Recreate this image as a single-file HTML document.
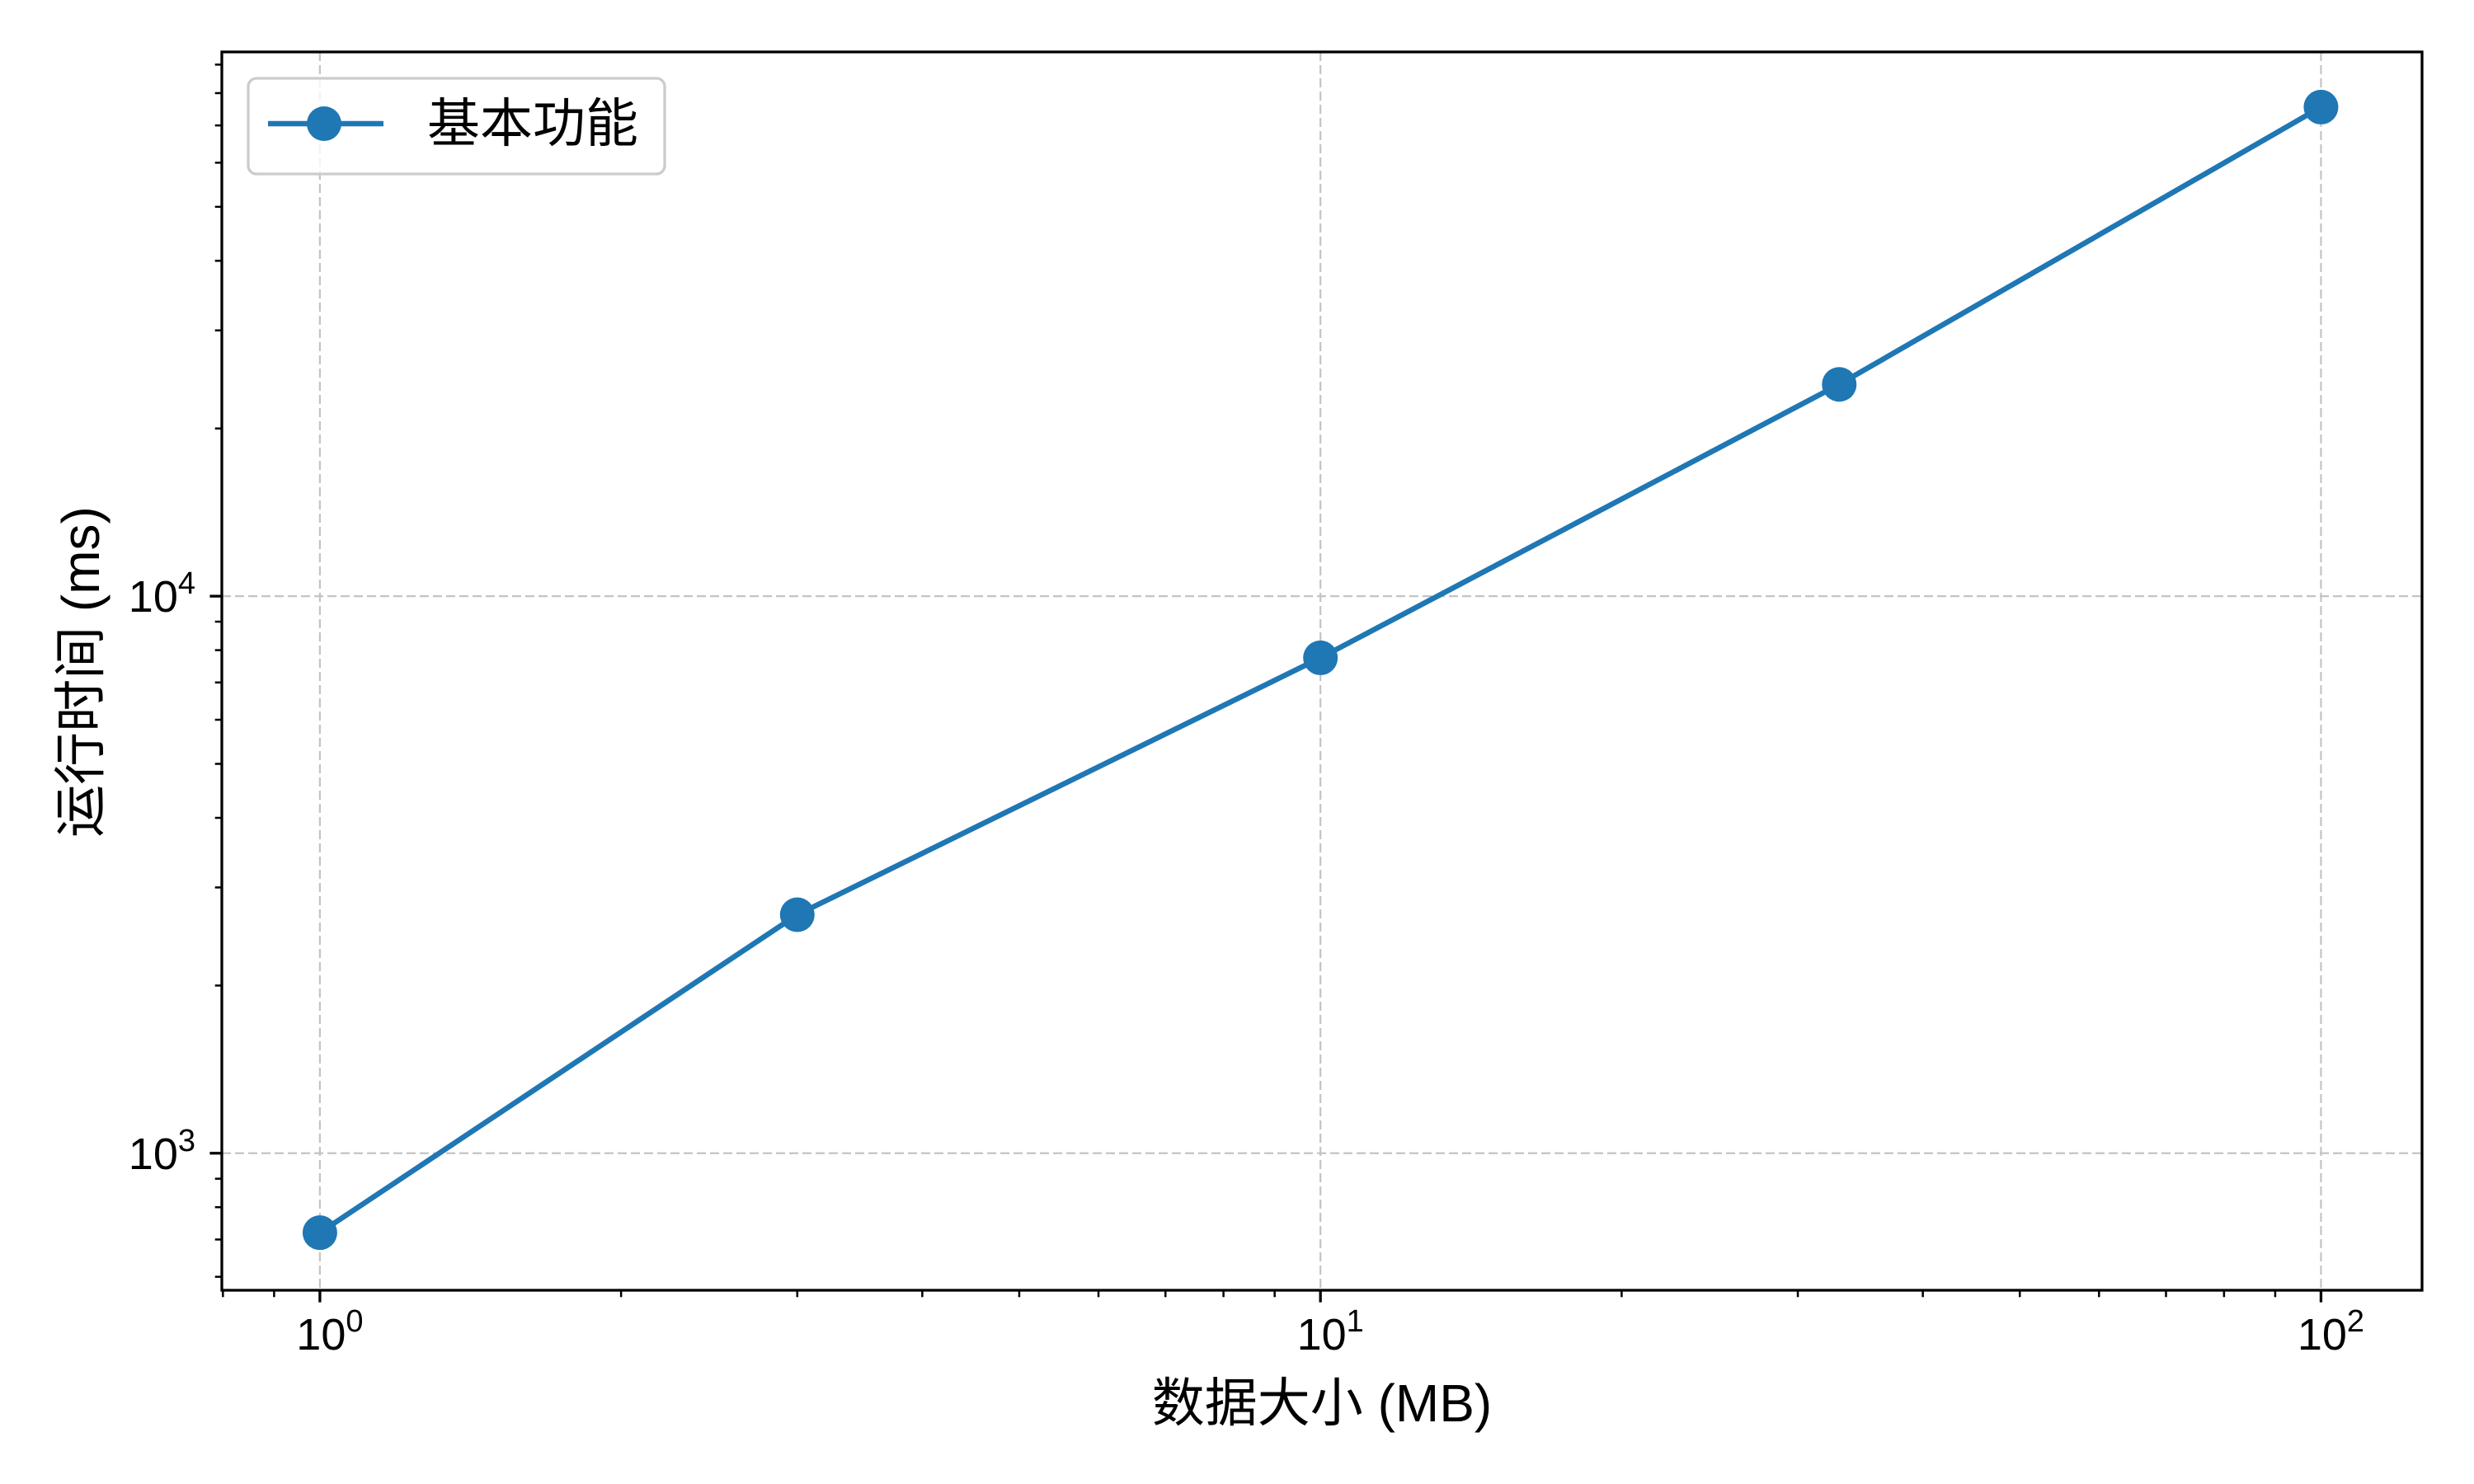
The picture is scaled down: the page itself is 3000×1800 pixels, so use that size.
<!DOCTYPE html>
<html><head><meta charset="utf-8">
<style>
html,body{margin:0;padding:0;background:#fff;}
svg{display:block;font-family:"Liberation Sans","Noto Sans CJK SC",sans-serif;}
</style></head>
<body>
<svg id="chart" width="3000" height="1800" viewBox="0 0 3000 1800" xmlns="http://www.w3.org/2000/svg">
<rect x="0" y="0" width="3000" height="1800" fill="#fff"/>
<g id="grid"></g>
<g id="ticks"></g>
<g id="series"></g>
<rect x="269" y="63" width="2668" height="1502" fill="none" stroke="#000" stroke-width="3.3"/>
<text x="1603" y="1724" font-size="64" text-anchor="middle">数据大小 (MB)</text>
<text transform="translate(120,815) rotate(-90)" font-size="64" text-anchor="middle">运行时间 (ms)</text>
<g>
<rect x="301" y="95" width="505" height="116" rx="10" fill="#fff" fill-opacity="0.8" stroke="#cccccc" stroke-width="3.3"/>
<line x1="325" y1="150" x2="465" y2="150" stroke="#1f77b4" stroke-width="6.5"/>
<circle cx="393" cy="150" r="21" fill="#1f77b4"/>
<text x="518" y="172" font-size="64">基本功能</text>
</g>
</svg>
<script>
const categories = [1, 3, 10, 33, 100];
const runtimeMs = [720, 2680, 7750, 24000, 75500];
const xTickExponents = [0, 1, 2];
const yTickExponents = [3, 4];

const L=269, R=2937, T=63, B=1565;
const xMin=-0.098, xMax=2.101, yMin=2.754, yMax=4.977;
function xs(v){return L+(Math.log10(v)-xMin)/(xMax-xMin)*(R-L);}
function ys(v){return B-(Math.log10(v)-yMin)/(yMax-yMin)*(B-T);}
const NS="http://www.w3.org/2000/svg";
function mk(tag,attrs,parent){const e=document.createElementNS(NS,tag);for(const k in attrs)e.setAttribute(k,attrs[k]);parent.appendChild(e);return e;}
const grid=document.getElementById('grid'), ticks=document.getElementById('ticks'), series=document.getElementById('series');

xTickExponents.forEach(p=>{
  const x=xs(Math.pow(10,p));
  const g=mk('line',{x1:x,x2:x,y1:T,y2:B,stroke:'#c4c4c4','stroke-width':2.2,'stroke-dasharray':'11,5'},grid);
  
  
  const t=mk('line',{x1:x,x2:x,y1:B,y2:B+14.6,stroke:'#000','stroke-width':3.3},ticks);
  
  
  const tx=mk('text',{x:x+12,y:1637,'font-size':54,'text-anchor':'middle'},ticks);
  
  
  tx.innerHTML='10<tspan dy="-22" font-size="38">'+p+'</tspan>';
});
for(let p=-1;p<=2;p++)for(let m=2;m<=9;m++){
  const lv=p+Math.log10(m); if(lv<xMin||lv>xMax)continue;
  const x=xs(Math.pow(10,lv));
  const t=mk('line',{x1:x,x2:x,y1:B,y2:B+8.3,stroke:'#000','stroke-width':2.5},ticks);
  
  
}
yTickExponents.forEach(p=>{
  const y=ys(Math.pow(10,p));
  const g=mk('line',{x1:L,x2:R,y1:y,y2:y,stroke:'#c4c4c4','stroke-width':2.2,'stroke-dasharray':'11,5'},grid);
  
  
  const t=mk('line',{x1:L-14.6,x2:L,y1:y,y2:y,stroke:'#000','stroke-width':3.3},ticks);
  
  
  const tx=mk('text',{x:237,y:y+19,'font-size':54,'text-anchor':'end'},ticks);
  
  
  tx.innerHTML='10<tspan dy="-22" font-size="38">'+p+'</tspan>';
});
for(let p=2;p<=5;p++)for(let m=2;m<=9;m++){
  const lv=p+Math.log10(m); if(lv<yMin||lv>yMax)continue;
  const y=ys(Math.pow(10,lv));
  const t=mk('line',{x1:L-8.3,x2:L,y1:y,y2:y,stroke:'#000','stroke-width':2.5},ticks);
  
  
}
const pts=categories.map((c,i)=>xs(c)+','+ys(runtimeMs[i])).join(' ');
const pl=mk('polyline',{points:pts,fill:'none',stroke:'#1f77b4','stroke-width':6.5,'stroke-linejoin':'round'},series);


categories.forEach((c,i)=>{
  const m=mk('circle',{cx:xs(c),cy:ys(runtimeMs[i]),r:21,fill:'#1f77b4'},series);
  
  
});
</script>
</body></html>
